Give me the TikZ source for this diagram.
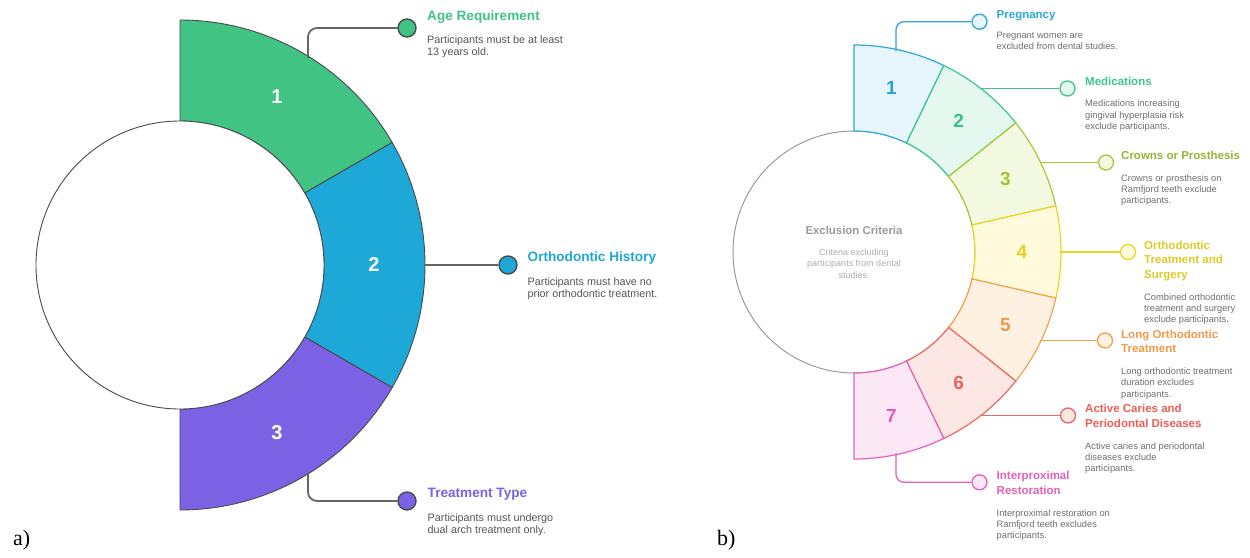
\documentclass[tikz,border=0pt]{standalone}
\usepackage{fontspec}
\setmainfont{Liberation Sans}
\newfontfamily\panelfont{Liberation Serif}
\usepackage{tikz}
\usetikzlibrary{positioning}

% left panel colours
\definecolor{ageGreen}{HTML}{40C383}
\definecolor{histBlue}{HTML}{1DA8D8}
\definecolor{typePurple}{HTML}{7B62E4}
\definecolor{edgeGray}{HTML}{4A4A4A}
\definecolor{textGray}{HTML}{555555}
% right panel colours
\definecolor{pregLine}{HTML}{2BA7D9}\definecolor{pregFill}{HTML}{E7F6FD}
\definecolor{mediLine}{HTML}{3CC68C}\definecolor{mediFill}{HTML}{E5F8EF}
\definecolor{crowLine}{HTML}{A6C938}\definecolor{crowFill}{HTML}{F3F9E0}
\definecolor{orthLine}{HTML}{E9D727}\definecolor{orthFill}{HTML}{FFFADB}
\definecolor{longLine}{HTML}{F2A14D}\definecolor{longFill}{HTML}{FFF1E2}
\definecolor{cariLine}{HTML}{EE6760}\definecolor{cariFill}{HTML}{FDE7E5}
\definecolor{interLine}{HTML}{E462B8}\definecolor{interFill}{HTML}{FCE7F5}
\definecolor{hubGray}{HTML}{9A9A9A}

\begin{document}
\begin{tikzpicture}[x=1pt, y=1pt,
    lsector/.style={draw=edgeGray, line width=0.9pt},
    lnum/.style={text=white, font=\fontsize{20}{22}\selectfont\bfseries},
    ldot/.style={circle, draw=edgeGray, line width=1.4pt, minimum size=18pt, inner sep=0pt},
    lwire/.style={draw=edgeGray!85, line width=1.8pt, rounded corners=9pt},
    ltitle/.style={anchor=north west, inner sep=0pt, align=left, font=\fontsize{13.6}{15}\selectfont\bfseries},
    ldesc/.style={anchor=north west, inner sep=0pt, align=left, text=textGray, font=\fontsize{10.8}{12.4}\selectfont},
    rsector/.style={line width=1.2pt},
    rnum/.style={font=\fontsize{19}{21}\selectfont\bfseries},
    rdot/.style={circle, line width=1.3pt, minimum size=15pt, inner sep=0pt},
    rwire/.style={line width=1.3pt, rounded corners=8pt},
    rtitle/.style={anchor=north west, inner sep=0pt, align=left, font=\fontsize{11.5}{14.7}\selectfont\bfseries},
    rdesc/.style={anchor=north west, inner sep=0pt, align=left, text=textGray!85, font=\fontsize{9.3}{11.3}\selectfont},
    panel/.style={anchor=base west, inner sep=0pt, font=\panelfont\fontsize{22}{24}\selectfont}]
    \useasboundingbox (0,0) rectangle (1250,-557);

    % a) three requirement sectors
    \foreach \aa/\bb/\c/\i in {90/30/ageGreen/1, 30/-30/histBlue/2, -30/-90/typePurple/3} {
        \draw[lsector, fill=\c] ([shift={(\aa:245)}]180,-265) arc[start angle=\aa, end angle=\bb, radius=245]
            -- ([shift={(\bb:144)}]180,-265) arc[start angle=\bb, end angle=\aa, radius=144] -- cycle;
        \node[lnum] (l\i) at ([shift={({(\aa+\bb)/2}:194)}]180,-265) {\i};
    }
    \node[circle, draw=edgeGray, line width=0.9pt, fill=white, minimum size=288pt, inner sep=0pt] (hubL) at (180,-265) {};

    \coordinate (ca) at (308,-58);
    \coordinate (ch) at (424,-265);
    \coordinate (ct) at (308,-472);
    \node[ldot, fill=ageGreen] (da) at (407,-28) {};
    \node[ldot, fill=histBlue] (dh) at (508,-265) {};
    \node[ldot, fill=typePurple] (dt) at (407,-501) {};
    \draw[lwire] (ca) |- (da);
    \draw[lwire] (ch) -- (dh);
    \draw[lwire] (ct) |- (dt);

    \node[ltitle, text=ageGreen] (ta) at (427,-10) {Age Requirement};
    \node[ldesc] (xa) at (427,-35) {Participants must be at least\\13 years old.};
    \node[ltitle, text=histBlue] (th) at (527.5,-251.5) {Orthodontic History};
    \node[ldesc] (xh) at (527.5,-277.5) {Participants must have no\\prior orthodontic treatment.};
    \node[ltitle, text=typePurple] (tt) at (427.5,-488) {Treatment Type};
    \node[ldesc] (xt) at (427.5,-513.5) {Participants must undergo\\dual arch treatment only.};

    % b) seven exclusion sectors
    \node[circle, draw=hubGray, line width=1pt, fill=white, minimum size=242pt, inner sep=0pt] (hubR) at (854,-252) {};
    \foreach \i/\fc/\lc in {1/pregFill/pregLine, 2/mediFill/mediLine, 3/crowFill/crowLine,
                            4/orthFill/orthLine, 5/longFill/longLine, 6/cariFill/cariLine, 7/interFill/interLine} {
        \pgfmathsetmacro\aa{90-(\i-1)*180/7}
        \pgfmathsetmacro\bb{90-\i*180/7}
        \pgfmathsetmacro\mm{(\aa+\bb)/2}
        \draw[rsector, draw=\lc, fill=\fc] ([shift={(\aa:207)}]854,-252) arc[start angle=\aa, end angle=\bb, radius=207]
            -- ([shift={(\bb:121)}]854,-252) arc[start angle=\bb, end angle=\aa, radius=121] -- cycle;
        \node[rnum, text=\lc!97!black] (r\i) at ([shift={(\mm:168)}]854,-252) {\i};
    }

    \node[font=\fontsize{11.4}{13}\selectfont\bfseries, text=hubGray] (hubT) at (854,-230) {Exclusion Criteria};
    \node[align=center, inner sep=0pt, text=hubGray!80, font=\fontsize{9}{11.3}\selectfont] (hubD) at (854,-263.5) {Criteria excluding\\participants from dental\\studies.};

    \coordinate (c1) at (896,-51);
    \coordinate (c2) at (980,-88.5);
    \coordinate (c3) at (1040,-162.5);
    \coordinate (c4) at (1060,-252);
    \coordinate (c5) at (1040,-340.5);
    \coordinate (c6) at (980,-415.5);
    \coordinate (c7) at (896,-453);
    \node[rdot, draw=pregLine, fill=pregFill] (d1) at (979.5,-21.7) {};
    \node[rdot, draw=mediLine, fill=mediFill] (d2) at (1067.5,-88.5) {};
    \node[rdot, draw=crowLine, fill=crowFill] (d3) at (1106,-162.5) {};
    \node[rdot, draw=orthLine, fill=orthFill] (d4) at (1128,-252) {};
    \node[rdot, draw=longLine, fill=longFill] (d5) at (1105,-340.5) {};
    \node[rdot, draw=cariLine, fill=cariFill] (d6) at (1068,-415.5) {};
    \node[rdot, draw=interLine, fill=interFill] (d7) at (979.5,-482.3) {};
    \draw[rwire, draw=pregLine] (c1) |- (d1);
    \draw[rwire, draw=mediLine] (c2) -- (d2);
    \draw[rwire, draw=crowLine] (c3) -- (d3);
    \draw[rwire, draw=orthLine] (c4) -- (d4);
    \draw[rwire, draw=longLine] (c5) -- (d5);
    \draw[rwire, draw=cariLine] (c6) -- (d6);
    \draw[rwire, draw=interLine] (c7) |- (d7);

    \node[rtitle, text=pregLine] (t1) at (996.5,-10.7) {Pregnancy};
    \node[rdesc] (x1) at (996.5,-31.6) {Pregnant women are\\excluded from dental studies.};
    \node[rtitle, text=mediLine] (t2) at (1085,-76.7) {Medications};
    \node[rdesc] (x2) at (1085,-99.9) {Medications increasing\\gingival hyperplasia risk\\exclude participants.};
    \node[rtitle, text=crowLine!90!black] (t3) at (1121,-151) {Crowns or Prosthesis};
    \node[rdesc] (x3) at (1121,-174.3) {Crowns or prosthesis on\\Ramfjord teeth exclude\\participants.};
    \node[rtitle, text=orthLine!95!black] (t4) at (1144,-240.7) {Orthodontic\\Treatment and\\Surgery};
    \node[rdesc] (x4) at (1144,-293.3) {Combined orthodontic\\treatment and surgery\\exclude participants.};
    \node[rtitle, text=longLine!95!red] (t5) at (1121,-329.7) {Long Orthodontic\\Treatment};
    \node[rdesc] (x5) at (1121,-367.6) {Long orthodontic treatment\\duration excludes\\participants.};
    \node[rtitle, text=cariLine!90!red] (t6) at (1085,-404) {Active Caries and\\Periodontal Diseases};
    \node[rdesc] (x6) at (1085,-442.3) {Active caries and periodontal\\diseases exclude\\participants.};
    \node[rtitle, text=interLine] (t7) at (996.5,-471.4) {Interproximal\\Restoration};
    \node[rdesc] (x7) at (996.5,-509.3) {Interproximal restoration on\\Ramfjord teeth excludes\\participants.};

    \node[panel] (pa) at (13,-545) {a)};
    \node[panel] (pb) at (717,-545) {b)};
\end{tikzpicture}
\end{document}
